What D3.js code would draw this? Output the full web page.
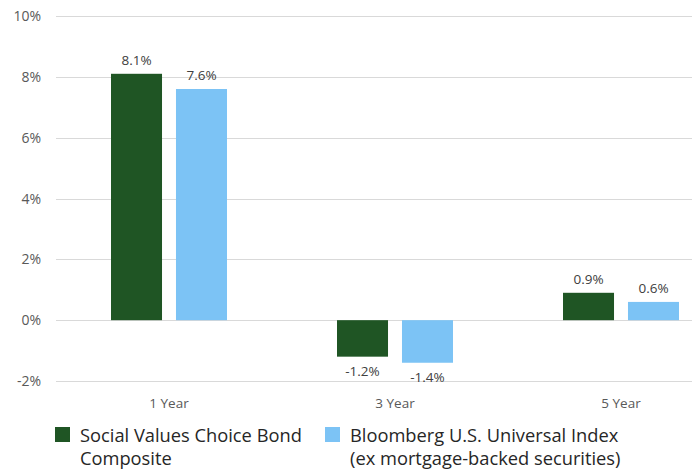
<!DOCTYPE html>
<html>
<head>
<meta charset="utf-8">
<script src="https://cdn.jsdelivr.net/npm/d3@7"></script>
<style>
  body { margin: 0; background: #fff; }
  svg { display: block; font-family: "Open Sans", "Noto Sans", sans-serif; }
</style>
</head>
<body>
<div id="chart"></div>
<script>
// chart data
const periods = ["1 Year", "3 Year", "5 Year"];
const seriesNames = ["Social Values Choice Bond Composite", "Bloomberg U.S. Universal Index (ex mortgage-backed securities)"];
const composite = [8.1, -1.2, 0.9];
const bloomberg = [7.6, -1.4, 0.6];
const yTicks = [-2, 0, 2, 4, 6, 8, 10];

const colors = ["#1f5524", "#7cc3f5"];
const width = 692, height = 469;

let svg = d3.select("#chart").append("svg")
  .attr("width", width)
  .attr("height", height);

// scales
let x = d3.scaleBand().domain(periods).range([56, 734]).paddingInner(0).paddingOuter(0);
let xSub = d3.scaleBand().domain([0, 1]).range([-58, 58]).paddingInner(0.215);
let y = d3.scaleLinear().domain([-2, 10]).range([381, 16]);

// gridlines
svg.append("g")
  .selectAll("line")
  .data(yTicks)
  .enter()
  .append("line")
  .attr("x1", 56)
  .attr("x2", width)
  .attr("y1", d => Math.round(y(d)) + 0.5)
  .attr("y2", d => Math.round(y(d)) + 0.5)
  .attr("stroke", "#d9d9d9")
  .attr("stroke-width", 1);

// y axis labels
svg.append("g")
  .selectAll("text")
  .data(yTicks)
  .enter()
  .append("text")
  .attr("x", 41)
  .attr("y", d => y(d) + 5)
  .attr("text-anchor", "end")
  .attr("font-size", 14)
  .attr("fill", "#595959")
  .text(d => d + "%");

// x axis labels
svg.append("g")
  .selectAll("text")
  .data(periods)
  .enter()
  .append("text")
  .attr("x", d => x(d) + x.bandwidth() / 2)
  .attr("y", 408)
  .attr("text-anchor", "middle")
  .attr("font-size", 13.5)
  .attr("fill", "#595959")
  .text(d => d);

// bars
let allSeries = [composite, bloomberg];
allSeries.forEach((vals, s) => {
  let g = svg.append("g");
  let rows = periods.map((p, i) => ({ p: p, v: vals[i] }));
  g.selectAll("rect")
    .data(rows)
    .enter()
    .append("rect")
    .attr("x", d => x(d.p) + x.bandwidth() / 2 + xSub(s))
    .attr("width", xSub.bandwidth())
    .attr("y", d => y(Math.max(0, d.v)))
    .attr("height", d => Math.abs(y(d.v) - y(0)))
    .attr("fill", colors[s]);

  // value labels
  g.selectAll("text")
    .data(rows)
    .enter()
    .append("text")
    .attr("x", d => x(d.p) + x.bandwidth() / 2 + xSub(s) + xSub.bandwidth() / 2)
    .attr("y", d => d.v >= 0 ? y(d.v) - 9 : y(d.v) + 19)
    .attr("text-anchor", "middle")
    .attr("font-size", 13.5)
    .attr("fill", "#404040")
    .text(d => d.v.toFixed(1) + "%");
});

// legend
let legendItems = [
  { x: 55, lines: ["Social Values Choice Bond", "Composite"] },
  { x: 325, lines: ["Bloomberg U.S. Universal Index", "(ex mortgage-backed securities)"] }
];
legendItems.forEach((item, i) => {
  svg.append("rect")
    .attr("x", item.x)
    .attr("y", 427)
    .attr("width", 15)
    .attr("height", 15)
    .attr("fill", colors[i]);
  let t = svg.append("text")
    .attr("font-size", 18.3)
    .attr("fill", "#262626");
  item.lines.forEach((line, j) => {
    t.append("tspan")
      .attr("x", item.x + 25)
      .attr("y", 442 + j * 23)
      .text(line);
  });
});
</script>
</body>
</html>
